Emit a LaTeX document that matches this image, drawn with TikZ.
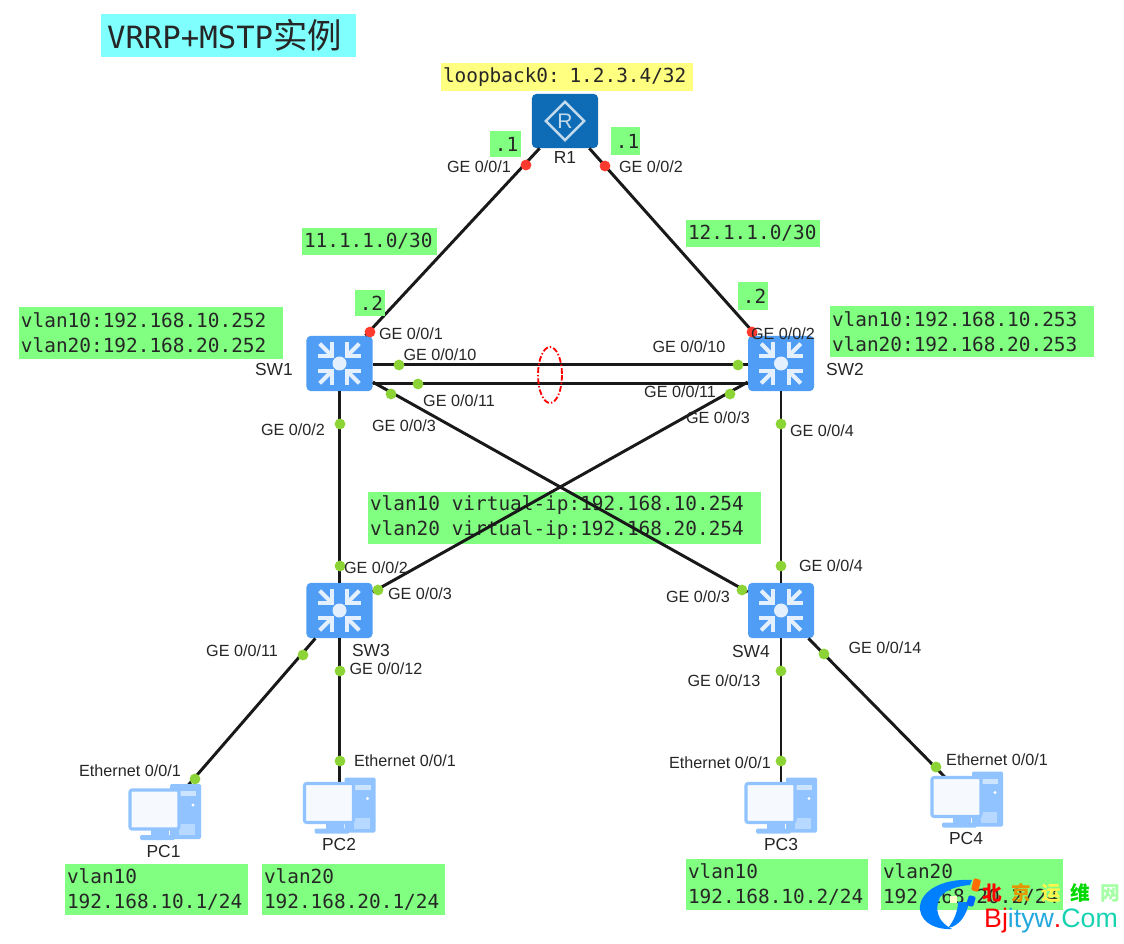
\documentclass[tikz,border=0pt]{standalone}
\usepackage{fontspec}
\setmainfont{Liberation Sans}
\setmonofont{DejaVu Sans Mono}
\newfontfamily\cjk{Noto Sans CJK SC}
\usepackage{xcolor}
\usepackage{tikz}
\usetikzlibrary{shapes.geometric}

\definecolor{labelgreen}{HTML}{80FF80}
\definecolor{labelcyan}{HTML}{80FFFF}
\definecolor{labelyellow}{HTML}{FFFF80}
\definecolor{swblue}{HTML}{4F9DF5}
\definecolor{routerblue}{HTML}{0D6CB5}
\definecolor{pcblue}{HTML}{90C3FF}
\definecolor{portgreen}{HTML}{8CD435}
\definecolor{portred}{HTML}{FF3B30}
\definecolor{urlteal}{HTML}{16D2B0}
\definecolor{urlblue}{HTML}{22A8DC}

% switch symbol, four arrows round a disc
\newcommand{\swicon}[1]{
    \fill[white!85!swblue] (#1) circle (7);
    \foreach \a in {45,135,225,315}{
        \begin{scope}[shift={(#1)},rotate=\a,draw=white!85!swblue,line width=2.9pt]
            \draw (28,0) -- (12,0);
            \draw (21,-10) -- (11,0) -- (21,10);
        \end{scope}
    }
}
% host symbol, tower behind a screen
\newcommand{\pcicon}[1]{
    \begin{scope}[shift={(#1)},shift={(-36,-23)}]
        \fill[pcblue,rounded corners=1pt] (41,-5) rectangle (72,50);
        \fill[white!55!pcblue] (47,2) rectangle (67,7);
        \fill[white] (64,16) circle (1.6);
        \fill[white!35!pcblue] (50,35) rectangle (66,46);
        \fill[pcblue] (22,41) rectangle (40,47);
        \fill[pcblue,rounded corners=1pt] (11,46) rectangle (46,51);
        \draw[pcblue,fill=white!92!pcblue,line width=2.2pt,rounded corners=1.5pt] (1,1) rectangle (50,40);
    \end{scope}
}

\begin{document}
\begin{tikzpicture}[
    x=0.025cm,y=-0.025cm,
    every node/.style={font=\fontsize{11.5}{13}\selectfont,text=black!85,inner sep=0pt},
    devname/.style={font=\fontsize{12.4}{14}\selectfont},
    link/.style={line width=2.1pt,black!90},
    swbox/.style={fill=swblue,rounded corners=3pt,minimum width=1.65cm,minimum height=1.38cm},
    pcbox/.style={minimum width=1.8cm,minimum height=1.4cm},
    portdot/.style={circle,fill=portgreen,minimum size=0.27cm},
    portred/.style={circle,fill=portred,minimum size=0.27cm},
    greenbox/.style n args={2}{fill=labelgreen,align=left,minimum width=#1*0.025cm,minimum height=#2*0.025cm,
        text width=(#1-4)*0.025cm,inner xsep=0.05cm,execute at begin node={\spaceskip=.602em\relax},
        font=\ttfamily\fontsize{13.8}{17.8}\selectfont},
]
    \useasboundingbox (0,0) rectangle (1124,944);

    % heading and loopback
    \node[fill=labelcyan,minimum width=6.37cm,minimum height=1.07cm,text width=6.07cm,inner xsep=0.15cm,align=left] (title) at (228.5,35.5)
        {\ttfamily\fontsize{21.8}{24}\selectfont VRRP+MSTP\cjk\fontsize{24.5}{24}\selectfont 实例};
    \node[greenbox={252}{28},fill=labelyellow] (loop) at (567,77) {loopback0: 1.2.3.4/32};

    % gateway box, lies under the links
    \node[greenbox={393}{52}] (vip) at (564.5,518)
        {vlan10 virtual-ip:192.168.10.254\\vlan20 virtual-ip:192.168.20.254};

    % devices
    \node[fill=routerblue,rounded corners=3pt,minimum width=1.65cm,minimum height=1.35cm] (R1) at (565,121) {};
    \node[swbox] (SW1) at (339.5,363.5) {};
    \node[swbox] (SW2) at (781,363.5) {};
    \node[swbox] (SW3) at (339.5,610.5) {};
    \node[swbox] (SW4) at (781,610.5) {};
    \node[pcbox] (PC1) at (165,812) {};
    \node[pcbox] (PC2) at (339.5,805.5) {};
    \node[pcbox] (PC3) at (781,805.5) {};
    \node[pcbox] (PC4) at (967,799.5) {};

    % links
    \draw[link] (R1) -- (SW1);
    \draw[link] (R1) -- (SW2);
    \draw[link] ([yshift=-1pt]SW1.east) -- ([yshift=-1pt]SW2.west);
    \draw[link] ([yshift=-14.5pt]SW1.east) -- ([yshift=-14.5pt]SW2.west);
    \draw[link] (SW1) -- (SW3);
    \draw[link] (SW2) -- (SW4);
    \draw[link] (SW1) -- (SW4);
    \draw[link] (SW2) -- (SW3);
    \draw[link] (SW3) -- (PC1.center);
    \draw[link] (SW3) -- (PC2.center);
    \draw[link] (SW4) -- (PC3.center);
    \draw[link] (SW4) -- (PC4.center);

    % icons
    \node[diamond,draw=white!75!routerblue,line width=1.8pt,minimum width=0.98cm,minimum height=0.98cm] (R1mark) at (R1) {};
    \node[text=white!75!routerblue,font=\fontsize{15}{15}\selectfont] (R1text) at (R1) {R};
    \swicon{SW1}
    \swicon{SW2}
    \swicon{SW3}
    \swicon{SW4}
    \pcicon{PC1}
    \pcicon{PC2}
    \pcicon{PC3}
    \pcicon{PC4}

    % device names
    \node[devname] (nR1) at (565,158) {R1};
    \node[devname] (nSW1) at (274,369) {SW1};
    \node[devname] (nSW2) at (845,369) {SW2};
    \node[devname] (nSW3) at (371,650) {SW3};
    \node[devname] (nSW4) at (751,651) {SW4};
    \node[devname] (nPC1) at (163.5,851) {PC1};
    \node[devname] (nPC2) at (339,844) {PC2};
    \node[devname] (nPC3) at (781,844) {PC3};
    \node[devname] (nPC4) at (966,838) {PC4};

    % ports
    \node[portred] (p1) at (526,165) {};
    \node[portred] (p2) at (605,166) {};
    \node[portred] (p3) at (370,332) {};
    \node[portred] (p4) at (752,332) {};
    \node[portdot] (p5) at (399,365) {};
    \node[portdot] (p6) at (418,384) {};
    \node[portdot] (p7) at (391,394) {};
    \node[portdot] (p8) at (738,365) {};
    \node[portdot] (p9) at (730,394) {};
    \node[portdot] (p10) at (340,424) {};
    \node[portdot] (p11) at (781,424) {};
    \node[portdot] (p12) at (340,566) {};
    \node[portdot] (p13) at (378,590) {};
    \node[portdot] (p14) at (742,590) {};
    \node[portdot] (p15) at (781,566) {};
    \node[portdot] (p16) at (303,655) {};
    \node[portdot] (p17) at (340,671) {};
    \node[portdot] (p18) at (781,671) {};
    \node[portdot] (p19) at (824,654) {};
    \node[portdot] (p20) at (195,779) {};
    \node[portdot] (p21) at (340,761) {};
    \node[portdot] (p22) at (781,761) {};
    \node[portdot] (p23) at (936,767) {};

    % port names
    \node (t1) at (479,167) {GE 0/0/1};
    \node (t2) at (651,167) {GE 0/0/2};
    \node (t3) at (411,334) {GE 0/0/1};
    \node (t4) at (783,334) {GE 0/0/2};
    \node (t5) at (440,355) {GE 0/0/10};
    \node (t6) at (459,401) {GE 0/0/11};
    \node (t7) at (404,426) {GE 0/0/3};
    \node (t8) at (689,347) {GE 0/0/10};
    \node (t9) at (680,392) {GE 0/0/11};
    \node (t10) at (718,418) {GE 0/0/3};
    \node (t11) at (293,430) {GE 0/0/2};
    \node (t12) at (822,431) {GE 0/0/4};
    \node (t13) at (376,568) {GE 0/0/2};
    \node (t14) at (420,594) {GE 0/0/3};
    \node (t15) at (698,597) {GE 0/0/3};
    \node (t16) at (831,566) {GE 0/0/4};
    \node (t17) at (242,651) {GE 0/0/11};
    \node (t18) at (386,669) {GE 0/0/12};
    \node (t19) at (724,681) {GE 0/0/13};
    \node (t20) at (885,648) {GE 0/0/14};
    \node (t21) at (130,771) {Ethernet 0/0/1};
    \node (t22) at (405,761) {Ethernet 0/0/1};
    \node (t23) at (720,763) {Ethernet 0/0/1};
    \node (t24) at (997,760) {Ethernet 0/0/1};

    % address labels
    \node[greenbox={31}{26}] (a1) at (505.5,144) {\hspace*{2pt}.1};
    \node[greenbox={29}{28}] (a2) at (625.5,141) {\hspace*{2pt}.1};
    \node[greenbox={135}{27}] (net1) at (369.5,241.5) {11.1.1.0/30};
    \node[greenbox={134}{27}] (net2) at (753,233.5) {12.1.1.0/30};
    \node[greenbox={30}{26}] (a3) at (370,303) {\hspace*{2pt}.2};
    \node[greenbox={30}{28}] (a4) at (753,296) {\hspace*{2pt}.2};
    \node[greenbox={264}{52}] (vsw1) at (151,333) {vlan10:192.168.10.252\\vlan20:192.168.20.252};
    \node[greenbox={264}{51}] (vsw2) at (962,331.5) {vlan10:192.168.10.253\\vlan20:192.168.20.253};
    \node[greenbox={183}{51}] (h1) at (156.5,889.5) {vlan10\\192.168.10.1/24};
    \node[greenbox={183}{51}] (h2) at (353.5,889.5) {vlan20\\192.168.20.1/24};
    \node[greenbox={182}{51}] (h3) at (777,884.5) {vlan10\\192.168.10.2/24};
    \node[greenbox={182}{51}] (h4) at (972,884.5) {vlan20\\192.168.20.2/24};

    % trunk bundle mark
    \draw[red,line width=1.3pt,dash pattern=on 4pt off 1.5pt on 1pt off 1.5pt] (550,375) ellipse (12 and 28);

    % site mark, bottom right
    \fill[blue!50!cyan] (972,880) .. controls (940,878) and (918,893) .. (920,910)
        .. controls (922,924) and (938,930) .. (952,929)
        .. controls (938,922) and (934,910) .. (940,897) .. controls (947,889) and (958,886) .. (970,885) -- cycle;
    \fill[blue!50!cyan] (969,902) -- (958,902) .. controls (958,912) and (953,922) .. (948,928)
        .. controls (960,926) and (967,914) .. (969,902);
    \fill[orange!85!red,rounded corners=1pt] (974,878) -- (981,880) -- (978,892) -- (971,890) -- cycle;
    \fill[blue!60!cyan,rounded corners=1pt] (969,895) -- (976,897) -- (973,907) -- (966,905) -- cycle;
    \fill[yellow!20] (950,896) rectangle (957,903);
    \node[font=\cjk\bfseries\fontsize{14}{16}\selectfont] (site) at (1051,893)
        {\textcolor{red}{北}\hspace{7pt}\textcolor{orange!70!yellow!90!black}{京}\hspace{7pt}\textcolor{yellow!70}{运}\hspace{7pt}\textcolor{green!85!black}{维}\hspace{7pt}\textcolor{green!35}{网}};
    \node[font=\fontsize{19}{20}\selectfont] (siteurl) at (1051,921)
        {\textcolor{red}{Bj}\textcolor{urlblue}{ityw}\textcolor{red}{.}\textcolor{urlteal}{Com}};
\end{tikzpicture}
\end{document}
